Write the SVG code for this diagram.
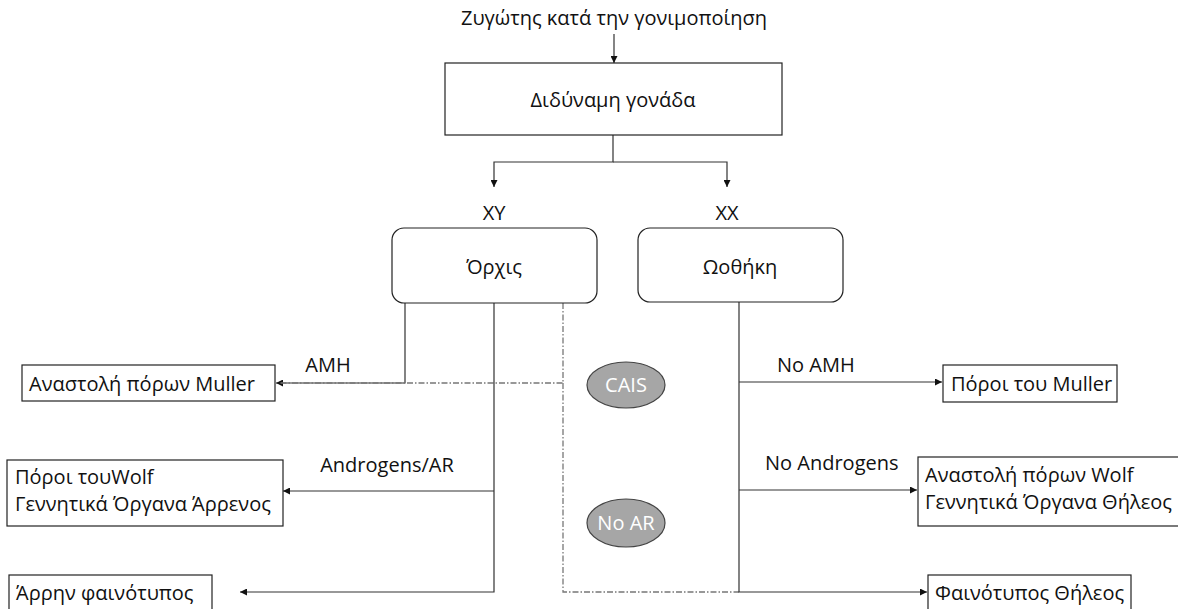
<svg xmlns="http://www.w3.org/2000/svg" width="1178" height="609" viewBox="0 0 1178 609">
<defs>
<style>
text{font-family:"Open Sans","Noto Sans","Liberation Sans",sans-serif;font-size:20px;fill:#111}
.c{text-anchor:middle}
.box{fill:#fff;stroke:#222;stroke-width:1.2}
.ln{fill:none;stroke:#333;stroke-width:1.2}
.dd{fill:none;stroke:#777;stroke-width:1.3;stroke-dasharray:6 2 1.5 2}
.ell{fill:#a6a6a6;stroke:#444;stroke-width:1.2}
.w{fill:#fff;font-size:20px}
</style>
<marker id="ah" viewBox="0 0 10 10" refX="10" refY="5" markerWidth="7" markerHeight="7" markerUnits="userSpaceOnUse" orient="auto">
<path d="M0,0 L10,5 L0,10 z" fill="#111"/>
</marker>
</defs>
<g id="connectors">
<path class="ln" d="M614,34 V63" marker-end="url(#ah)"/>
<path class="ln" d="M613,135 V162 H494 V187" marker-end="url(#ah)"/>
<path class="ln" d="M613,162 H727 V187" marker-end="url(#ah)"/>
<path class="ln" d="M405,303 V383 H276" marker-end="url(#ah)"/>
<path class="dd" d="M563,303 V383 H280"/>
<path class="ln" d="M494,303 V592 H240" marker-end="url(#ah)"/>
<path class="ln" d="M494,491 H283" marker-end="url(#ah)"/>
<path class="dd" d="M563,383 V592 H739"/>
<path class="ln" d="M739,302 V592 H927" marker-end="url(#ah)"/>
<path class="ln" d="M739,382 H942" marker-end="url(#ah)"/>
<path class="ln" d="M739,490 H917" marker-end="url(#ah)"/>
</g>
<g id="zygote"><text class="c" x="614" y="25">Ζυγώτης κατά την γονιμοποίηση</text></g>
<g id="gonad"><rect class="box" x="445" y="63" width="337" height="72"/><text class="c" x="613" y="107">Διδύναμη γονάδα</text></g>
<g id="xy"><text class="c" x="494" y="220">XY</text></g>
<g id="xx"><text class="c" x="727" y="220">XX</text></g>
<g id="testis"><rect class="box" x="392" y="228" width="205" height="75" rx="12"/><text class="c" x="494" y="274">Όρχις</text></g>
<g id="ovary"><rect class="box" x="638" y="228" width="205" height="74" rx="12"/><text class="c" x="740" y="274">Ωοθήκη</text></g>
<g id="amh"><text class="c" x="328" y="372">AMH</text></g>
<g id="muller-inhib"><rect class="box" x="22" y="365" width="253" height="36"/><text x="29" y="391">Αναστολή πόρων Muller</text></g>
<g id="cais"><ellipse class="ell" cx="626" cy="385" rx="39" ry="23"/><text class="c w" x="626" y="392">CAIS</text></g>
<g id="no-amh"><text x="777" y="372">No AMH</text></g>
<g id="muller"><rect class="box" x="943" y="365" width="174" height="37"/><text x="951" y="391">Πόροι του Muller</text></g>
<g id="androgens-ar"><text class="c" x="387" y="472">Androgens/AR</text></g>
<g id="wolf-male"><rect class="box" x="7" y="460" width="276" height="66"/><text x="15" y="484">Πόροι τουWolf</text><text x="15" y="511">Γεννητικά Όργανα Άρρενος</text></g>
<g id="no-androgens"><text x="765" y="470">No Androgens</text></g>
<g id="wolf-female"><rect class="box" x="918" y="457" width="270" height="69"/><text x="925" y="482">Αναστολή πόρων Wolf</text><text x="925" y="509">Γεννητικά Όργανα Θήλεος</text></g>
<g id="no-ar"><ellipse class="ell" cx="626" cy="523" rx="39" ry="24"/><text class="c w" x="626" y="530">No AR</text></g>
<g id="male-pheno"><rect class="box" x="9" y="575" width="203" height="40"/><text x="16" y="600">Άρρην φαινότυπος</text></g>
<g id="female-pheno"><rect class="box" x="928" y="575" width="203" height="40"/><text x="935" y="600">Φαινότυπος Θήλεος</text></g>
</svg>
